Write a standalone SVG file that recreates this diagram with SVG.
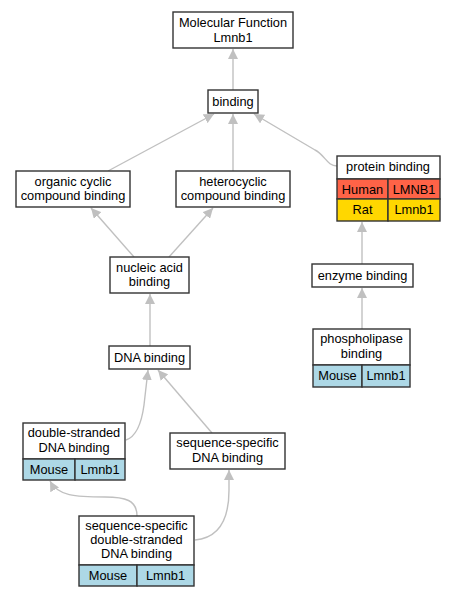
<svg xmlns="http://www.w3.org/2000/svg" width="455" height="597" viewBox="0 0 455 597">
<defs>
<marker id="ah" viewBox="0 0 10 10" refX="10" refY="5" markerWidth="10" markerHeight="10" markerUnits="userSpaceOnUse" orient="auto">
<path d="M0,0 L10,5 L0,10 z" fill="#c0c0c0"/>
</marker>
</defs>
<style>
text{font-family:"Liberation Sans",Arial,sans-serif;font-size:12.8px;fill:#000;text-anchor:middle}
.b{fill:#fff;stroke:#333;stroke-width:1.4}
.h{fill:#ff6347;stroke:#333;stroke-width:1.4}
.r{fill:#ffd700;stroke:#333;stroke-width:1.4}
.m{fill:#add8e6;stroke:#333;stroke-width:1.4}
.e{fill:none;stroke:#c0c0c0;stroke-width:1.4;marker-end:url(#ah)}
</style>
<rect width="455" height="597" fill="#fff"/>
<g id="connectors">
<path class="e" d="M233,90 L233,49"/>
<path class="e" d="M108,171 L214,114"/>
<path class="e" d="M233,171 L233,114"/>
<path class="e" d="M337,166 C327,166 325,155 315,150 L254,114"/>
<path class="e" d="M134,257 L91,208"/>
<path class="e" d="M169,257 L213,208"/>
<path class="e" d="M150,346 L150,294"/>
<path class="e" d="M362,264 L362,222"/>
<path class="e" d="M362,329 L362,288"/>
<path class="e" d="M126,440 C138,436 142,420 144,405 L148,370"/>
<path class="e" d="M212,433 L158,370"/>
<path class="e" d="M137,516 C137,500 125,497 105,497 C75,497 58,496 50,481"/>
<path class="e" d="M195,540 C218,538 229,520 229,490 L229,470"/>
</g>
<g id="mf">
<rect class="b" x="173" y="12" width="120" height="36"/>
<text x="233" y="27">Molecular Function</text>
<text x="233" y="41.5">Lmnb1</text>
</g>
<g id="binding">
<rect class="b" x="208" y="90" width="50" height="23"/>
<text x="233" y="106">binding</text>
</g>
<g id="organic">
<rect class="b" x="16" y="171" width="114" height="36"/>
<text x="73" y="185.5">organic cyclic</text>
<text x="73" y="200">compound binding</text>
</g>
<g id="hetero">
<rect class="b" x="176" y="171" width="114" height="36"/>
<text x="233" y="185.5">heterocyclic</text>
<text x="233" y="200">compound binding</text>
</g>
<g id="protein">
<rect class="b" x="337" y="156" width="103" height="23"/>
<text x="388" y="171">protein binding</text>
<rect class="h" x="337" y="179" width="51" height="20"/>
<rect class="h" x="388" y="179" width="52" height="20"/>
<text x="362.5" y="193.5">Human</text>
<text x="414" y="193.5">LMNB1</text>
<rect class="r" x="337" y="199" width="51" height="22"/>
<rect class="r" x="388" y="199" width="52" height="22"/>
<text x="362.5" y="214">Rat</text>
<text x="414" y="214">Lmnb1</text>
</g>
<g id="nucleic">
<rect class="b" x="110" y="257" width="79" height="36"/>
<text x="149.5" y="271.5">nucleic acid</text>
<text x="149.5" y="286">binding</text>
</g>
<g id="enzyme">
<rect class="b" x="312" y="264" width="101" height="23"/>
<text x="362.5" y="280">enzyme binding</text>
</g>
<g id="dna">
<rect class="b" x="109" y="346" width="81" height="23"/>
<text x="149.5" y="362">DNA binding</text>
</g>
<g id="phospho">
<rect class="b" x="313" y="329" width="97" height="36"/>
<text x="361.5" y="343">phospholipase</text>
<text x="361.5" y="357.5">binding</text>
<rect class="m" x="313" y="365" width="49" height="22"/>
<rect class="m" x="362" y="365" width="48" height="22"/>
<text x="337.5" y="380">Mouse</text>
<text x="386" y="380">Lmnb1</text>
</g>
<g id="ds">
<rect class="b" x="23" y="423" width="102" height="36"/>
<text x="74" y="437">double-stranded</text>
<text x="74" y="451.5">DNA binding</text>
<rect class="m" x="23" y="459" width="52" height="21"/>
<rect class="m" x="75" y="459" width="50" height="21"/>
<text x="49" y="473.5">Mouse</text>
<text x="100" y="473.5">Lmnb1</text>
</g>
<g id="seqdna">
<rect class="b" x="170" y="433" width="115" height="36"/>
<text x="227.5" y="447">sequence-specific</text>
<text x="227.5" y="461.5">DNA binding</text>
</g>
<g id="ssds">
<rect class="b" x="79" y="516" width="115" height="49"/>
<text x="136.5" y="530">sequence-specific</text>
<text x="136.5" y="544">double-stranded</text>
<text x="136.5" y="558">DNA binding</text>
<rect class="m" x="79" y="565" width="58" height="21"/>
<rect class="m" x="137" y="565" width="57" height="21"/>
<text x="108" y="579.5">Mouse</text>
<text x="165.5" y="579.5">Lmnb1</text>
</g>
</svg>
